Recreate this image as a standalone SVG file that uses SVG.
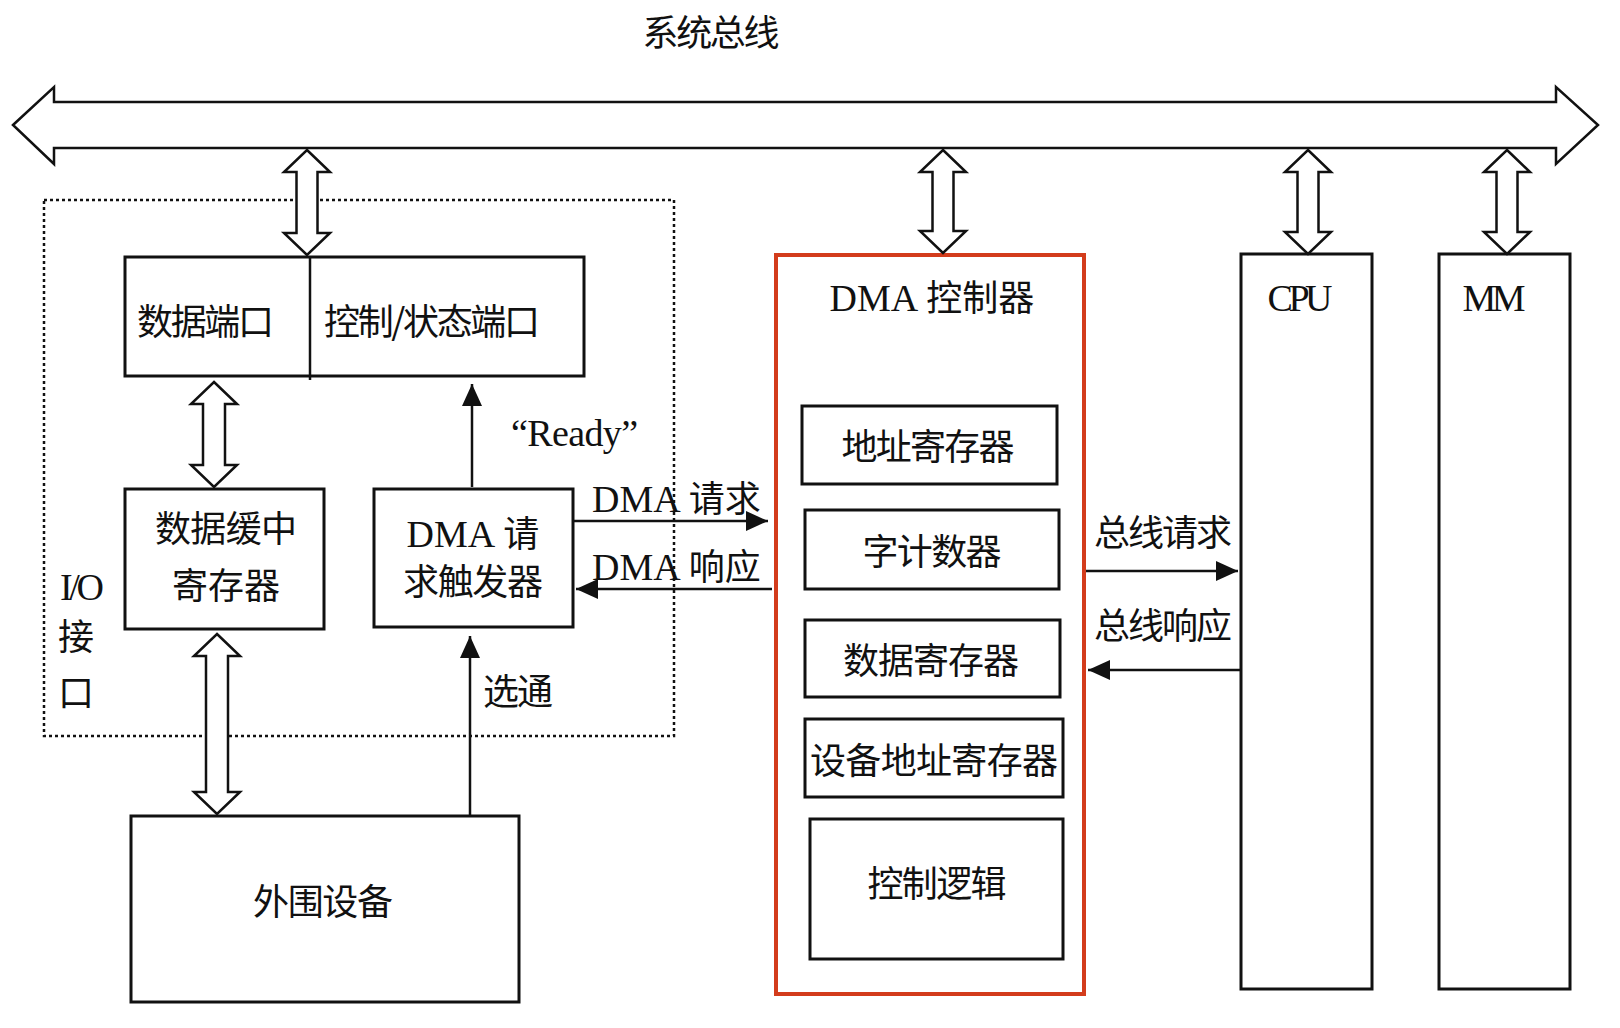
<svg xmlns="http://www.w3.org/2000/svg" width="1620" height="1028" viewBox="0 0 1620 1028">
<style>
.b{fill:#fff;stroke:#111;stroke-width:3}
.da{fill:#fff;stroke:#111;stroke-width:2.5}
.ln{stroke:#111;stroke-width:2.5;fill:none}
.t{font-family:"Noto Sans CJK SC","Liberation Sans",sans-serif;font-size:36px;fill:#111}
.s{font-family:"Liberation Serif","Noto Sans CJK SC",serif;font-size:38px;fill:#111}
</style>
<defs>
<marker id="ah" viewBox="0 0 22 20" refX="22" refY="10" markerWidth="22" markerHeight="20" markerUnits="userSpaceOnUse" orient="auto"><path d="M0,0L22,10L0,20z" fill="#111"/></marker>
</defs>
<rect width="1620" height="1028" fill="#fff"/>
<text class="t" x="711" y="46" text-anchor="middle" textLength="137" font-size="38">系统总线</text>
<g id="bus"><polygon class="da" points="13,125 54,87 54,102 1556,102 1556,87 1598,125 1556,164 1556,148 54,148 54,164"/></g>
<g id="io-interface">
<rect x="44" y="200" width="630" height="536" fill="none" stroke="#111" stroke-width="2.5" stroke-dasharray="3,3"/>
<text class="s" x="60" y="600" textLength="44">I/O</text>
<text class="t" x="58" y="650">接</text>
<text class="t" x="58" y="706">口</text>
</g>
<g id="ports">
<rect class="b" x="125" y="257" width="459" height="119"/>
<line class="ln" x1="310" y1="257" x2="310" y2="380"/>
<text class="t" x="137" y="335" textLength="137">数据端口</text>
<text class="t" x="324" y="335" textLength="216">控制/状态端口</text>
</g>
<g id="buffer">
<rect class="b" x="125" y="489" width="199" height="140"/>
<text class="t" x="226" y="542" text-anchor="middle" textLength="142">数据缓中</text>
<text class="t" x="226" y="599" text-anchor="middle" textLength="108">寄存器</text>
</g>
<g id="trigger">
<rect class="b" x="374" y="489" width="199" height="138"/>
<text class="t" x="473" y="547" text-anchor="middle"><tspan class="s" font-size="38">DMA</tspan> 请</text>
<text class="t" x="473" y="595" text-anchor="middle" textLength="140">求触发器</text>
</g>
<g id="peripheral">
<rect class="b" x="131" y="816" width="388" height="186"/>
<text class="t" x="323" y="915" text-anchor="middle" textLength="140">外围设备</text>
</g>
<g id="dma">
<rect x="776" y="255" width="308" height="739" fill="#fff" stroke="#d33c1c" stroke-width="4"/>
<text class="t" x="932" y="311" text-anchor="middle"><tspan class="s">DMA</tspan> 控制器</text>
<rect class="b" x="802" y="406" width="255" height="78"/>
<text class="t" x="928" y="460" text-anchor="middle" textLength="173">地址寄存器</text>
<rect class="b" x="805" y="510" width="254" height="79"/>
<text class="t" x="932" y="565" text-anchor="middle" textLength="139">字计数器</text>
<rect class="b" x="805" y="620" width="255" height="77"/>
<text class="t" x="931" y="674" text-anchor="middle" textLength="176">数据寄存器</text>
<rect class="b" x="805" y="719" width="258" height="78"/>
<text class="t" x="934" y="774" text-anchor="middle" textLength="248">设备地址寄存器</text>
<rect class="b" x="810" y="819" width="253" height="140"/>
<text class="t" x="937" y="897" text-anchor="middle" textLength="139">控制逻辑</text>
</g>
<g id="cpu">
<rect class="b" x="1241" y="254" width="131" height="735"/>
<text class="s" x="1300" y="311" text-anchor="middle" textLength="65">CPU</text>
</g>
<g id="mm">
<rect class="b" x="1439" y="254" width="131" height="735"/>
<text class="s" x="1494" y="311" text-anchor="middle" textLength="63">MM</text>
</g>
<g id="connectors">
<polygon class="da" points="307,150 330,172 317.5,172 317.5,233 330,233 307,255 284,233 296.5,233 296.5,172 284,172"/>
<polygon class="da" points="943,150 966,172 953.5,172 953.5,231 966,231 943,253 920,231 932.5,231 932.5,172 920,172"/>
<polygon class="da" points="1308,150 1331,172 1318.5,172 1318.5,232 1331,232 1308,254 1285,232 1297.5,232 1297.5,172 1285,172"/>
<polygon class="da" points="1507,150 1530,172 1517.5,172 1517.5,232 1530,232 1507,254 1484,232 1496.5,232 1496.5,172 1484,172"/>
<polygon class="da" points="214,382 237,404 225,404 225,465 237,465 214,487 191,465 203,465 203,404 191,404"/>
<polygon class="da" points="217,634 240,656 228,656 228,792 240,792 217,814 194,792 206,792 206,656 194,656"/>
<line class="ln" x1="472" y1="487" x2="472" y2="384" marker-end="url(#ah)"/>
<line class="ln" x1="470" y1="816" x2="470" y2="636" marker-end="url(#ah)"/>
<line class="ln" x1="573" y1="521" x2="768" y2="521" marker-end="url(#ah)"/>
<line class="ln" x1="772" y1="589" x2="576" y2="589" marker-end="url(#ah)"/>
<line class="ln" x1="1086" y1="571" x2="1238" y2="571" marker-end="url(#ah)"/>
<line class="ln" x1="1240" y1="670" x2="1088" y2="670" marker-end="url(#ah)"/>
<text class="s" x="511" y="446" textLength="127">“Ready”</text>
<text class="t" x="592" y="512"><tspan class="s">DMA</tspan> 请求</text>
<text class="t" x="592" y="580"><tspan class="s">DMA</tspan> 响应</text>
<text class="t" x="1094" y="546" textLength="138">总线请求</text>
<text class="t" x="1094" y="639" textLength="138">总线响应</text>
<text class="t" x="483" y="705" textLength="70">选通</text>
</g>
</svg>
